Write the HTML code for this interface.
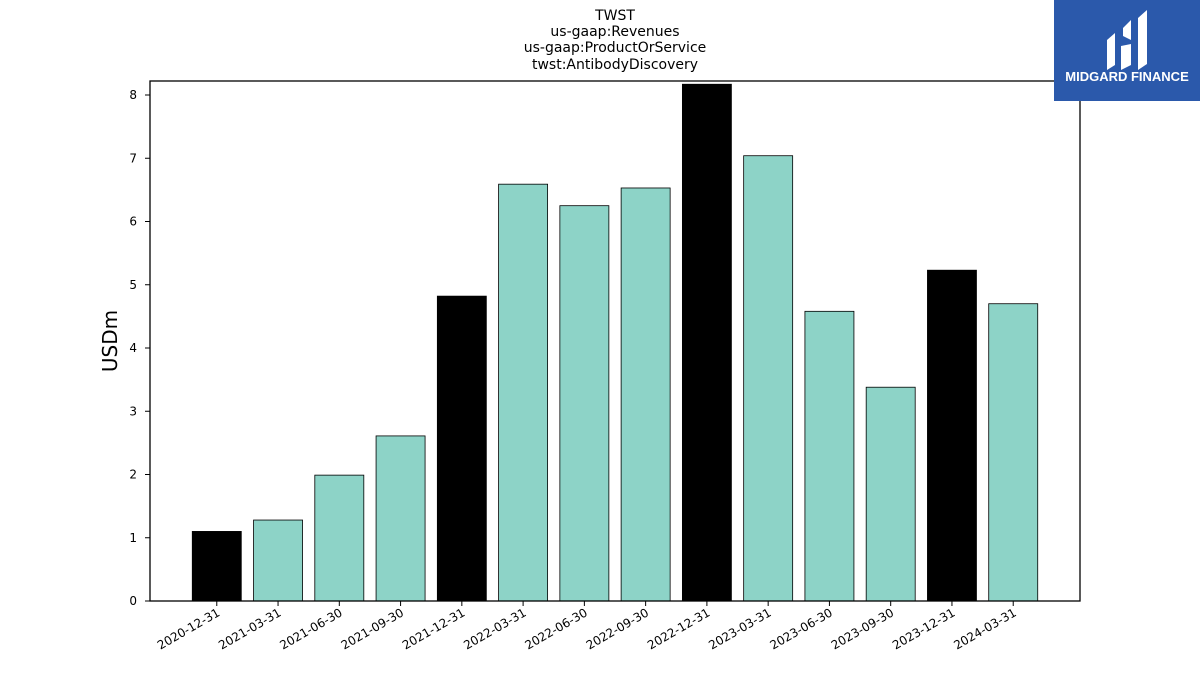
<!DOCTYPE html>
<html><head><meta charset="utf-8"><style>
body{margin:0;background:#fff;width:1200px;height:675px;overflow:hidden;font-family:"DejaVu Sans","Liberation Sans",sans-serif}
</style></head><body>
<svg id="c" width="1200" height="675" xmlns="http://www.w3.org/2000/svg">
<g font-size="14" text-anchor="middle" fill="#000">
<text x="615" y="20">TWST</text>
<text x="615" y="36">us-gaap:Revenues</text>
<text x="615" y="52">us-gaap:ProductOrService</text>
<text x="615" y="69">twst:AntibodyDiscovery</text>
</g>
<text x="117" y="341" font-size="20" text-anchor="middle" transform="rotate(-90 117 341)">USDm</text>
<g id="bars"></g><g id="ticks"></g>
<rect x="150" y="81" width="930" height="520" fill="none" stroke="#000" stroke-width="1.3"/>
<g>
<rect x="1054" y="0" width="146" height="101" fill="#2b59ab"/>
<path d="M1107 40 L1115 33 L1115 65 L1107 70 Z M1123 28 L1131 20 L1131 40 L1123 36 Z M1121 46 L1131 44 L1131 65 L1121 70 Z M1138 18 L1147 10 L1147 64 L1138 70 Z" fill="#fff"/>
<text x="1127" y="81" font-size="13" font-weight="bold" fill="#fff" text-anchor="middle" font-family="Liberation Sans, sans-serif">MIDGARD FINANCE</text>
</g>
</svg>
<script>
const categories=["2020-12-31","2021-03-31","2021-06-30","2021-09-30","2021-12-31","2022-03-31","2022-06-30","2022-09-30","2022-12-31","2023-03-31","2023-06-30","2023-09-30","2023-12-31","2024-03-31"];
const values=[1.1,1.28,1.99,2.61,4.82,6.59,6.25,6.53,8.17,7.04,4.58,3.38,5.23,4.70];
const yTicks=[0,1,2,3,4,5,6,7,8];
const NS="http://www.w3.org/2000/svg";
const x=i=>150+(i+1.09)*(930/15.18);
const y=v=>601-v*63.25;
const bw=0.8*930/15.18;
const bars=document.getElementById('bars'),ticks=document.getElementById('ticks');
function mk(t,a,p){const e=document.createElementNS(NS,t);for(const k in a)e.setAttribute(k,a[k]);p.appendChild(e);return e;}
values.forEach((v,i)=>{
const r=mk('rect',{x:x(i)-bw/2,y:y(v),width:bw,height:y(0)-y(v),fill:categories[i].endsWith('12-31')?'#000':'#8dd3c7',stroke:'#000','stroke-width':0.8},bars);


const l=mk('line',{x1:x(i),x2:x(i),y1:601,y2:606,stroke:'#000'},ticks);


const t=mk('text',{x:x(i)+4,y:615,'font-size':12,'text-anchor':'end',transform:`rotate(-30 ${x(i)+4} 615)`},ticks);
t.textContent=categories[i];


});
yTicks.forEach(v=>{
const l=mk('line',{x1:145,x2:150,y1:y(v),y2:y(v),stroke:'#000'},ticks);


const t=mk('text',{x:137,y:y(v)+4,'font-size':12,'text-anchor':'end'},ticks);
t.textContent=v;


});
</script>
</body></html>
